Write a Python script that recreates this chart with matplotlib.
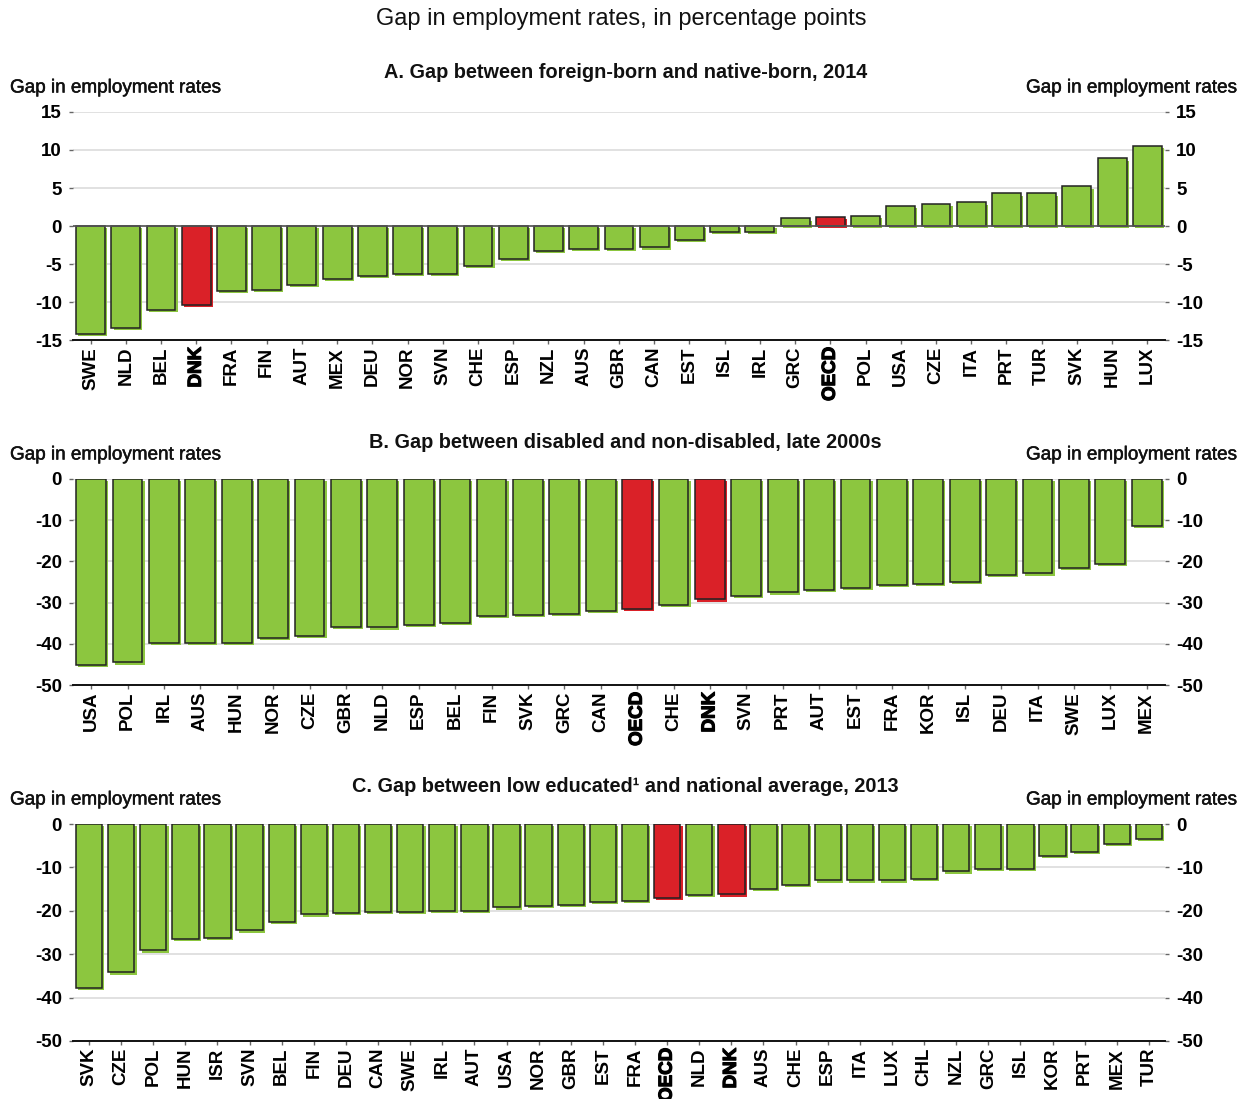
import matplotlib
matplotlib.use("Agg")
import matplotlib.pyplot as plt
import matplotlib.patheffects as pe
import numpy as np

plt.rcParams['font.family'] = ['Liberation Sans', 'DejaVu Sans']

GREEN = '#8CC63F'
RED = '#DA2128'

# Panel A: gap between foreign-born and native-born, 2014
a_countries = ["SWE", "NLD", "BEL", "DNK", "FRA", "FIN", "AUT", "MEX", "DEU", "NOR", "SVN",
               "CHE", "ESP", "NZL", "AUS", "GBR", "CAN", "EST", "ISL", "IRL", "GRC", "OECD",
               "POL", "USA", "CZE", "ITA", "PRT", "TUR", "SVK", "HUN", "LUX"]
a_values = [-14.2, -13.4, -11.0, -10.4, -8.5, -8.4, -7.7, -7.0, -6.6, -6.3, -6.3,
            -5.2, -4.3, -3.3, -3.0, -3.0, -2.8, -1.8, -0.75, -0.75, 1.0, 1.2,
            1.35, 2.6, 2.9, 3.1, 4.3, 4.3, 5.2, 8.9, 10.5]

# Panel B: gap between disabled and non-disabled, late 2000s
b_countries = ["USA", "POL", "IRL", "AUS", "HUN", "NOR", "CZE", "GBR", "NLD", "ESP", "BEL",
               "FIN", "SVK", "GRC", "CAN", "OECD", "CHE", "DNK", "SVN", "PRT", "AUT", "EST",
               "FRA", "KOR", "ISL", "DEU", "ITA", "SWE", "LUX", "MEX"]
b_values = [-45.2, -44.5, -39.7, -39.7, -39.7, -38.6, -38.0, -35.9, -36.0, -35.4, -35.0,
            -33.3, -32.9, -32.7, -32.1, -31.5, -30.5, -29.2, -28.3, -27.5, -27.0, -26.4,
            -25.8, -25.5, -24.9, -23.2, -22.9, -21.5, -20.7, -11.4]

# Panel C: gap between low educated and national average, 2013
c_countries = ["SVK", "CZE", "POL", "HUN", "ISR", "SVN", "BEL", "FIN", "DEU", "CAN", "SWE",
               "IRL", "AUT", "USA", "NOR", "GBR", "EST", "FRA", "OECD", "NLD", "DNK", "AUS",
               "CHE", "ESP", "ITA", "LUX", "CHL", "NZL", "GRC", "ISL", "KOR", "PRT", "MEX", "TUR"]
c_values = [-37.8, -34.2, -29.1, -26.5, -26.3, -24.5, -22.5, -20.8, -20.5, -20.2, -20.2,
            -20.0, -20.0, -19.2, -18.9, -18.7, -17.9, -17.8, -17.0, -16.4, -16.2, -15.0,
            -14.1, -13.0, -13.0, -13.0, -12.7, -10.9, -10.4, -10.4, -7.4, -6.5, -4.5, -3.5]

highlight = {"DNK", "OECD"}

panels = [
    dict(countries=a_countries, values=a_values, ylim=(-15, 15), ticks=[-15, -10, -5, 0, 5, 10, 15],
         title="A. Gap between foreign-born and native-born, 2014", rect=[0.0585, 0.6906, 0.8757, 0.2075],
         zero=True),
    dict(countries=b_countries, values=b_values, ylim=(-50, 0), ticks=[-50, -40, -30, -20, -10, 0],
         title="B. Gap between disabled and non-disabled, late 2000s", rect=[0.0585, 0.3767, 0.8757, 0.1875],
         zero=False),
    dict(countries=c_countries, values=c_values, ylim=(-50, 0), ticks=[-50, -40, -30, -20, -10, 0],
         title="C. Gap between low educated\u00b9 and national average, 2013", rect=[0.0585, 0.0528, 0.8757, 0.1974],
         zero=False),
]

W, H = 1247, 1099
fig = plt.figure(figsize=(W / 100, H / 100), dpi=100)

fig.text(0.4985, 1 - 19 / H, "Gap in employment rates, in percentage points", ha='center', va='center',
         fontsize=17, color='#111111')

title_y = [73, 443, 786]
ylab_y = [88, 455, 800]
ylab_fx = [pe.withStroke(linewidth=0.35, foreground='#111111')]

for i, p in enumerate(panels):
    ax = fig.add_axes(p['rect'])
    n = len(p['countries'])
    x = np.arange(n)
    colors = [RED if c in highlight else GREEN for c in p['countries']]
    bars = ax.bar(x, p['values'], width=0.82, color=colors, edgecolor='#222222', linewidth=1.1, zorder=3)
    for b, c in zip(bars, colors):
        b.set_path_effects([pe.SimplePatchShadow(offset=(1.6, -1.6), shadow_rgbFace=c, alpha=1.0),
                            pe.Normal()])
    ax.set_xlim(-0.5, n - 0.5)
    ax.set_ylim(*p['ylim'])
    ax.set_yticks(p['ticks'])
    ax.set_yticklabels([str(t) for t in p['ticks']])
    ax.yaxis.grid(True, color='#dcdcdc', linewidth=1.2, zorder=0)
    ax.set_axisbelow(True)
    for s in ['left', 'right', 'top']:
        ax.spines[s].set_visible(False)
    ax.spines['bottom'].set_color('#111111')
    ax.spines['bottom'].set_linewidth(1.4)
    ax.tick_params(axis='y', which='both', left=True, right=True, labelleft=True, labelright=True,
                   length=3, width=1, color='#666666', pad=5, labelsize=13.5)
    for lab in ax.get_yticklabels():
        lab.set_fontweight('bold')
    ax.set_xticks(x)
    ax.set_xticklabels(p['countries'], rotation=90, fontsize=13.5, fontweight='bold', va='top')
    ax.tick_params(axis='x', length=3, width=1, color='#666666', pad=2)
    for lab in ax.get_xticklabels():
        if lab.get_text() in highlight:
            lab.set_path_effects([pe.withStroke(linewidth=0.9, foreground='black')])
    if p['zero']:
        ax.axhline(0, color='#555555', linewidth=1.2, zorder=4)
    cx = p['rect'][0] + p['rect'][2] / 2
    fig.text(cx + 0.005, 1 - title_y[i] / H, p['title'], ha='center', va='center', fontsize=14.3,
             fontweight='bold', color='#111111')
    fig.text(10 / W, 1 - ylab_y[i] / H, "Gap in employment rates", ha='left', va='center',
             fontsize=13.6, color='#111111', path_effects=ylab_fx)
    fig.text(1236 / W, 1 - ylab_y[i] / H, "Gap in employment rates", ha='right', va='center',
             fontsize=13.6, color='#111111', path_effects=ylab_fx)

fig.savefig("out.png", dpi=100, facecolor='white')
